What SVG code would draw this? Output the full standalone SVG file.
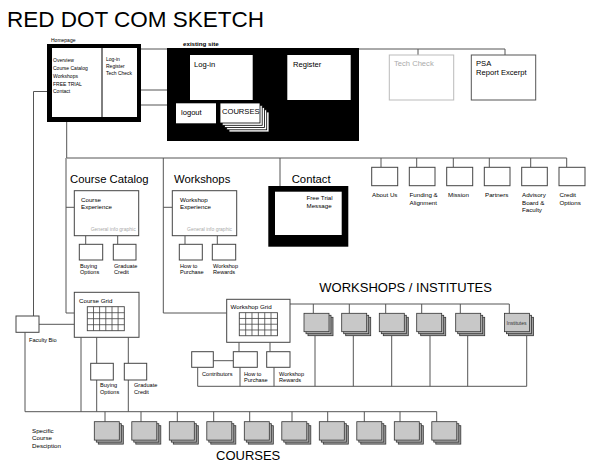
<svg xmlns="http://www.w3.org/2000/svg" width="600" height="470" viewBox="0 0 600 470">
<style>
text{font-family:"Liberation Sans",Arial,sans-serif;fill:#000}
.ln{stroke:#555;stroke-width:1;fill:none}
.bx{fill:#fff;stroke:#444;stroke-width:1}
.s5{font-size:5px}
.s55{font-size:5.6px}
.s6{font-size:6.2px}
.s75{font-size:7.6px}
.h{font-size:11.3px}
.big{font-size:13px}
.gi{font-size:5px;fill:#aaa}
.gl{stroke:#444;stroke-width:0.8;fill:none}
</style>
<defs>
<g id="gstack">
<rect x="4" y="4" width="25" height="18.4" fill="#a0a0a0" stroke="#333" stroke-width="0.8"/>
<rect x="2" y="2" width="25" height="18.4" fill="#b4b4b4" stroke="#333" stroke-width="0.8"/>
<rect x="0" y="0" width="25" height="18.4" fill="#c8c8c8" stroke="#333" stroke-width="0.8"/>
</g>
<g id="grid">
<rect x="0" y="0" width="37" height="24" fill="#fff" stroke="#444" stroke-width="0.9"/>
<path class="gl" d="M6.2 0V24M12.3 0V24M18.5 0V24M24.7 0V24M30.8 0V24M0 6H37M0 12H37M0 18H37"/>
</g>
<marker id="dot" viewBox="0 0 4 4" refX="2" refY="2" markerWidth="4" markerHeight="4" markerUnits="userSpaceOnUse"><circle cx="2" cy="2" r="1.3" fill="#000"/></marker>
</defs>

<text x="7" y="27" style="font-size:22.5px">RED DOT COM SKETCH</text>

<g id="connectors">
<path class="ln" d="M141 49H505M418 49V55M505 49V55"/>
<path class="ln" d="M167 90H127" marker-end="url(#dot)"/>
<path class="ln" d="M167 105H127" marker-end="url(#dot)"/>
<path class="ln" d="M47 91.5H33.5V316"/>
<path class="ln" d="M66.7 122V158H566.7"/>
<path class="ln" d="M381 158V167.3M416.7 158V167.3M453.3 158V167.3M489.3 158V167.3M530.7 158V167.3M566.7 158V167.3"/>
<path class="ln" d="M66 158V313H74.3M66 207.3H74.3"/>
<path class="ln" d="M163.3 158V313H226.7M163.3 207.3H172.3"/>
<path class="ln" d="M280 158V186"/>
<path class="ln" d="M85.7 235.7V244.3M117.7 235.7V244.3M185 235.7V244.3M217.3 235.7V244.3"/>
<path class="ln" d="M39 324.3H74.3M25 332.3V411.7H436.7"/>
<path class="ln" d="M81 337.3V411.7M96.7 337.3V363.3M96.7 380V411.7M128.3 337.3V363.3M128.3 380V411.7"/>
<path class="ln" d="M105 411.7V421.7M141 411.7V421.7M177.3 411.7V421.7M213.7 411.7V421.7M249.7 411.7V421.7M292 411.7V421.7M327.7 411.7V421.7M364.3 411.7V421.7M400 411.7V421.7M436.7 411.7V421.7"/>
<path class="ln" d="M290 304H509.3M313.3 304V313.3M349.3 304V313.3M385.7 304V313.3M421.7 304V313.3M460.3 304V313.3M509.3 304V313.3"/>
<path class="ln" d="M315 335.7V386.3M353.3 335.7V386.3M391.7 335.7V386.3M430 335.7V386.3M467.7 335.7V386.3M526.7 335.7V386.3M197.7 386.3H526.7"/>
<path class="ln" d="M239 342.3V351.7M270 342.3V351.7M213.3 360.7H233.3M197.7 367.3V386.3M240 367.3V386.3M274 367.3V386.3"/>
</g>

<g id="homepage">
<rect x="47" y="44" width="94" height="78" fill="#000"/>
<rect x="52" y="48" width="85" height="69" fill="#fff"/>
<line x1="102" y1="48" x2="102" y2="117" stroke="#000" stroke-width="1"/>
<text x="51" y="42" class="s5">Homepage</text>
<text x="53" y="62" class="s5">Overview</text>
<text x="53" y="70" class="s5">Course Catalog</text>
<text x="53" y="78" class="s5">Workshops</text>
<text x="53" y="85.5" class="s5">FREE TRIAL</text>
<text x="53" y="93" class="s5">Contact</text>
<text x="106" y="60.5" class="s5">Log-in</text>
<text x="106" y="67.5" class="s5">Register</text>
<text x="106" y="74.5" class="s5">Tech Check</text>
</g>

<g id="existing-site">
<rect x="167" y="48" width="192" height="93" fill="#000"/>
<text x="183" y="45.5" style="font-size:6.2px;font-weight:bold">existing site</text>
<g id="login"><rect x="190" y="55" width="62.7" height="45" fill="#fff"/><text x="194" y="67" class="s75">Log-in</text></g>
<g id="register"><rect x="287.3" y="55" width="63.4" height="45" fill="#fff"/><text x="293" y="67" class="s75">Register</text></g>
<g id="logout"><rect x="176" y="103.3" width="40" height="20" fill="#fff"/><text x="181" y="115" class="s75">logout</text></g>
<g id="courses-stack">
<rect x="229" y="112" width="40" height="20" fill="#fff" stroke="#000" stroke-width="0.8"/>
<rect x="226.7" y="109.8" width="40" height="20" fill="#fff" stroke="#000" stroke-width="0.8"/>
<rect x="224.5" y="107.5" width="40" height="20" fill="#fff" stroke="#000" stroke-width="0.8"/>
<rect x="222.2" y="105.3" width="40" height="20" fill="#fff" stroke="#000" stroke-width="0.8"/>
<rect x="220" y="103" width="40" height="20" fill="#fff" stroke="#000" stroke-width="0.8"/>
<text x="222" y="114" class="s75">COURSES</text>
</g>
</g>

<g id="tech-check">
<rect x="389.3" y="55" width="64.4" height="45" fill="#fff" stroke="#bbb" stroke-width="1"/>
<text x="394" y="66" class="s75" style="fill:#aaa">Tech Check</text>
</g>
<g id="psa">
<rect x="471.3" y="55" width="64.4" height="45" fill="#fff" stroke="#555" stroke-width="1"/>
<text x="476" y="66" class="s75">PSA</text>
<text x="476" y="75" class="s75">Report Excerpt</text>
</g>

<g id="course-catalog">
<text x="70" y="183.3" class="h">Course Catalog</text>
<rect class="bx" x="74.3" y="190.7" width="64.4" height="45"/>
<text x="81" y="201.7" class="s6">Course</text>
<text x="81" y="209" class="s6">Experience</text>
<text x="90.7" y="231" class="gi">General info graphic</text>
</g>
<g id="cc-buying"><rect class="bx" x="79.3" y="244.3" width="23.4" height="15.7"/><text x="80" y="267.5" class="s55">Buying</text><text x="80" y="273.5" class="s55">Options</text></g>
<g id="cc-credit"><rect class="bx" x="113.3" y="244.3" width="22.7" height="15.7"/><text x="114" y="267.5" class="s55">Graduate</text><text x="114" y="273.5" class="s55">Credit</text></g>

<g id="workshops">
<text x="174" y="183.3" class="h">Workshops</text>
<rect class="bx" x="172.3" y="190.7" width="64.4" height="45"/>
<text x="180" y="201.7" class="s6">Workshop</text>
<text x="180" y="209" class="s6">Experience</text>
<text x="187" y="231" class="gi">General info graphic</text>
</g>
<g id="ws-purchase"><rect class="bx" x="179.3" y="244.3" width="23" height="15.7"/><text x="180" y="267.5" class="s55">How to</text><text x="180" y="273.5" class="s55">Purchase</text></g>
<g id="ws-rewards"><rect class="bx" x="212.3" y="244.3" width="23.4" height="15.7"/><text x="213" y="267.5" class="s55">Workshop</text><text x="213" y="273.5" class="s55">Rewards</text></g>

<g id="contact">
<text x="291.7" y="183.3" class="h">Contact</text>
<rect x="268.3" y="186" width="80" height="60.7" fill="#000"/>
<rect x="275" y="191.7" width="66.7" height="43.3" fill="#fff"/>
<text x="306.5" y="200.3" class="s6">Free Trial</text>
<text x="306.5" y="208" class="s6">Message</text>
</g>

<g id="about-us"><rect class="bx" x="371.7" y="167.3" width="26" height="18.4"/><text x="372" y="197" class="s6">About Us</text></g>
<g id="funding"><rect class="bx" x="409.3" y="167.3" width="25.7" height="18.4"/><text x="409.5" y="197" class="s6">Funding &amp;</text><text x="409.5" y="204.6" class="s6">Alignment</text></g>
<g id="mission"><rect class="bx" x="446.7" y="167.3" width="26" height="18.4"/><text x="448" y="197" class="s6">Mission</text></g>
<g id="partners"><rect class="bx" x="484.3" y="167.3" width="25.7" height="18.4"/><text x="485" y="197" class="s6">Partners</text></g>
<g id="advisory"><rect class="bx" x="521.7" y="167.3" width="25.6" height="18.4"/><text x="522" y="197" class="s6">Advisory</text><text x="522" y="204.6" class="s6">Board &amp;</text><text x="522" y="212.2" class="s6">Faculty</text></g>
<g id="credit-options"><rect class="bx" x="559" y="167.3" width="26" height="18.4"/><text x="559.5" y="197" class="s6">Credit</text><text x="559.5" y="204.6" class="s6">Options</text></g>

<g id="faculty-bio"><rect class="bx" x="16" y="316" width="23" height="16.3"/><text x="29" y="342" class="s55">Faculty Bio</text></g>

<g id="course-grid">
<rect class="bx" x="74.3" y="292.3" width="64.7" height="45"/>
<text x="79" y="302.5" class="s6">Course Grid</text>
<use href="#grid" x="87.3" y="306.7"/>
</g>
<g id="cg-buying"><rect class="bx" x="90.7" y="363.3" width="22.6" height="16.7"/><text x="100" y="387" class="s55">Buying</text><text x="100" y="393.5" class="s55">Options</text></g>
<g id="cg-credit"><rect class="bx" x="124.3" y="363.3" width="22.4" height="16.7"/><text x="134" y="387" class="s55">Graduate</text><text x="134" y="393.5" class="s55">Credit</text></g>

<g id="workshop-grid">
<rect class="bx" x="226.7" y="299.3" width="63.3" height="43"/>
<text x="230.5" y="309" class="s6">Workshop Grid</text>
<use href="#grid" transform="translate(239.3 312.7) scale(1.03 0.96)"/>
</g>
<g id="wg-contributors"><rect class="bx" x="191.7" y="351.7" width="21.6" height="15.6"/><text x="202" y="376" class="s55">Contributors</text></g>
<g id="wg-purchase"><rect class="bx" x="233.3" y="351.7" width="24" height="15.6"/><text x="244" y="376" class="s55">How to</text><text x="244" y="382" class="s55">Purchase</text></g>
<g id="wg-rewards"><rect class="bx" x="266.7" y="351.7" width="23.3" height="15.6"/><text x="279" y="376" class="s55">Workshop</text><text x="279" y="382" class="s55">Rewards</text></g>

<text x="319.3" y="292" class="big">WORKSHOPS / INSTITUTES</text>
<g id="workshop-1"><use href="#gstack" x="304" y="313.3"/></g>
<g id="workshop-2"><use href="#gstack" x="341.7" y="313.3"/></g>
<g id="workshop-3"><use href="#gstack" x="379.3" y="313.3"/></g>
<g id="workshop-4"><use href="#gstack" x="416.7" y="313.3"/></g>
<g id="workshop-5"><use href="#gstack" x="455.7" y="313.3"/></g>
<g id="institutes"><use href="#gstack" x="504.5" y="313.3"/><text x="506.5" y="325" style="font-size:5px;fill:#333">Institutes</text></g>

<g id="specific-course"><text x="32" y="433" class="s6">Specific</text><text x="32" y="440.3" class="s6">Course</text><text x="32" y="447.7" class="s6">Desciption</text></g>
<g id="course-1"><use href="#gstack" x="94.3" y="421.7"/></g>
<g id="course-2"><use href="#gstack" x="131.8" y="421.7"/></g>
<g id="course-3"><use href="#gstack" x="169.3" y="421.7"/></g>
<g id="course-4"><use href="#gstack" x="206.8" y="421.7"/></g>
<g id="course-5"><use href="#gstack" x="244.3" y="421.7"/></g>
<g id="course-6"><use href="#gstack" x="281.8" y="421.7"/></g>
<g id="course-7"><use href="#gstack" x="319.3" y="421.7"/></g>
<g id="course-8"><use href="#gstack" x="356.8" y="421.7"/></g>
<g id="course-9"><use href="#gstack" x="394.3" y="421.7"/></g>
<g id="course-10"><use href="#gstack" x="431.8" y="421.7"/></g>
<text x="216" y="460" class="big">COURSES</text>
</svg>
